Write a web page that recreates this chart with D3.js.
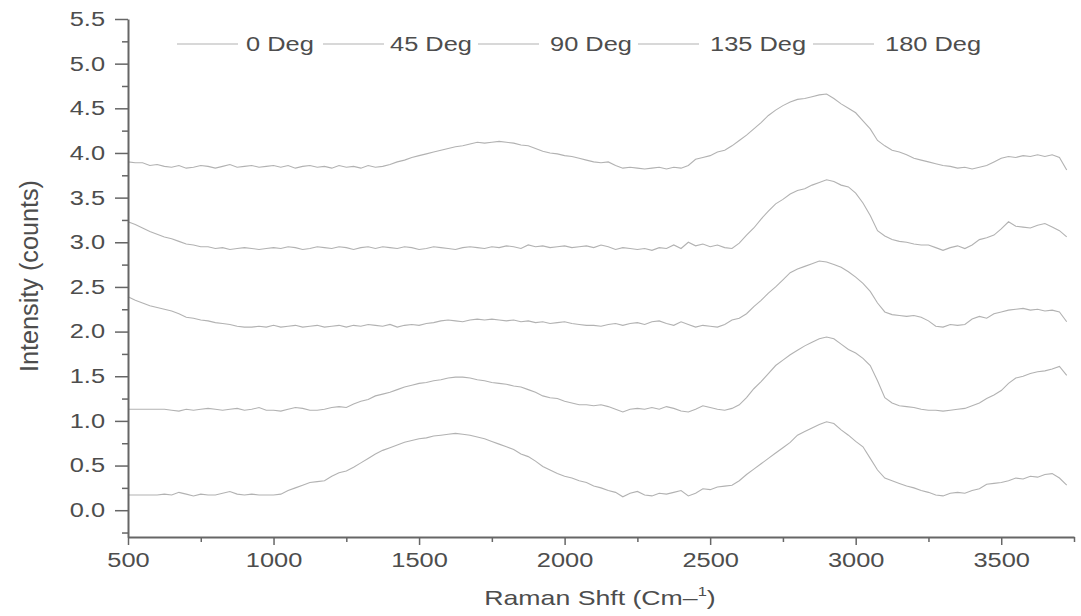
<!DOCTYPE html>
<html>
<head>
<meta charset="utf-8">
<script src="https://cdn.jsdelivr.net/npm/d3@7"></script>
<style>
  body { margin: 0; background: #fff; }
  text { font-family: "Liberation Sans", Arial, sans-serif; fill: #4d4d4d; }
</style>
</head>
<body>
<div class="chart"></div>
<script>
// raman shift grid (cm-1), one sample every 25
var shift = [
  500,525,550,575,600,625,650,675,700,725,
  750,775,800,825,850,875,900,925,950,975,
  1000,1025,1050,1075,1100,1125,1150,1175,1200,1225,
  1250,1275,1300,1325,1350,1375,1400,1425,1450,1475,
  1500,1525,1550,1575,1600,1625,1650,1675,1700,1725,
  1750,1775,1800,1825,1850,1875,1900,1925,1950,1975,
  2000,2025,2050,2075,2100,2125,2150,2175,2200,2225,
  2250,2275,2300,2325,2350,2375,2400,2425,2450,2475,
  2500,2525,2550,2575,2600,2625,2650,2675,2700,2725,
  2750,2775,2800,2825,2850,2875,2900,2925,2950,2975,
  3000,3025,3050,3075,3100,3125,3150,3175,3200,3225,
  3250,3275,3300,3325,3350,3375,3400,3425,3450,3475,
  3500,3525,3550,3575,3600,3625,3650,3675,3700,3725
];

var deg0 = [
  0.17,0.17,0.17,0.17,0.17,0.18,0.17,0.20,0.18,0.16,
  0.18,0.17,0.17,0.19,0.21,0.18,0.17,0.18,0.17,0.17,
  0.17,0.18,0.22,0.25,0.28,0.31,0.32,0.33,0.38,0.42,
  0.44,0.48,0.53,0.58,0.63,0.67,0.70,0.73,0.76,0.78,
  0.80,0.81,0.83,0.84,0.85,0.86,0.85,0.84,0.82,0.80,
  0.77,0.74,0.71,0.68,0.63,0.60,0.55,0.49,0.45,0.41,
  0.38,0.36,0.33,0.31,0.27,0.25,0.22,0.20,0.15,0.19,
  0.21,0.17,0.16,0.19,0.18,0.20,0.22,0.16,0.19,0.24,
  0.23,0.26,0.27,0.28,0.33,0.40,0.46,0.52,0.58,0.64,
  0.70,0.76,0.84,0.88,0.92,0.96,0.99,0.97,0.90,0.84,
  0.77,0.71,0.58,0.45,0.36,0.33,0.30,0.27,0.25,0.22,
  0.20,0.17,0.16,0.19,0.20,0.19,0.22,0.24,0.29,0.30,
  0.31,0.33,0.36,0.35,0.38,0.37,0.40,0.41,0.36,0.28
];

var deg45 = [
  1.13,1.13,1.13,1.13,1.13,1.13,1.12,1.11,1.13,1.12,
  1.13,1.14,1.13,1.12,1.13,1.14,1.12,1.13,1.15,1.12,
  1.12,1.11,1.13,1.15,1.14,1.12,1.12,1.13,1.15,1.16,
  1.15,1.19,1.22,1.24,1.28,1.30,1.32,1.35,1.38,1.40,
  1.42,1.43,1.45,1.46,1.48,1.49,1.49,1.48,1.46,1.45,
  1.43,1.42,1.41,1.39,1.38,1.35,1.32,1.28,1.26,1.25,
  1.22,1.20,1.18,1.18,1.17,1.18,1.16,1.13,1.10,1.13,
  1.14,1.13,1.15,1.13,1.16,1.14,1.11,1.10,1.13,1.17,
  1.15,1.13,1.12,1.14,1.18,1.26,1.36,1.44,1.53,1.62,
  1.68,1.74,1.79,1.84,1.88,1.92,1.94,1.92,1.86,1.80,
  1.76,1.70,1.62,1.45,1.26,1.20,1.17,1.16,1.15,1.13,
  1.12,1.12,1.11,1.12,1.13,1.14,1.17,1.20,1.25,1.29,
  1.34,1.42,1.48,1.50,1.53,1.55,1.56,1.58,1.61,1.51
];

var deg90 = [
  2.39,2.35,2.32,2.29,2.27,2.25,2.23,2.20,2.16,2.15,
  2.13,2.12,2.10,2.09,2.08,2.06,2.05,2.05,2.06,2.05,
  2.07,2.05,2.06,2.07,2.05,2.06,2.07,2.05,2.06,2.07,
  2.05,2.07,2.06,2.08,2.07,2.06,2.08,2.05,2.07,2.08,
  2.07,2.09,2.10,2.12,2.13,2.12,2.11,2.13,2.14,2.13,
  2.14,2.13,2.12,2.13,2.11,2.12,2.10,2.11,2.09,2.10,
  2.11,2.09,2.08,2.07,2.07,2.06,2.08,2.09,2.07,2.09,
  2.10,2.08,2.11,2.12,2.09,2.07,2.11,2.08,2.05,2.07,
  2.06,2.05,2.08,2.13,2.15,2.20,2.28,2.35,2.43,2.50,
  2.58,2.66,2.70,2.73,2.76,2.79,2.78,2.75,2.72,2.67,
  2.61,2.54,2.45,2.32,2.22,2.19,2.18,2.17,2.18,2.16,
  2.12,2.06,2.05,2.08,2.07,2.08,2.14,2.17,2.15,2.20,
  2.22,2.24,2.25,2.26,2.24,2.25,2.23,2.24,2.22,2.11
];

var deg135 = [
  3.23,3.20,3.16,3.12,3.09,3.06,3.04,3.01,2.98,2.97,
  2.95,2.95,2.93,2.94,2.92,2.93,2.94,2.93,2.92,2.93,
  2.94,2.93,2.95,2.94,2.92,2.93,2.95,2.94,2.93,2.95,
  2.94,2.92,2.94,2.95,2.93,2.95,2.94,2.93,2.95,2.94,
  2.92,2.93,2.95,2.94,2.93,2.92,2.94,2.95,2.94,2.93,
  2.95,2.94,2.96,2.95,2.93,2.97,2.95,2.96,2.94,2.95,
  2.96,2.94,2.95,2.96,2.94,2.97,2.95,2.92,2.94,2.93,
  2.92,2.93,2.91,2.94,2.93,2.97,2.93,3.00,2.96,2.98,
  2.95,2.97,2.94,2.93,2.99,3.08,3.16,3.26,3.35,3.43,
  3.48,3.54,3.58,3.60,3.64,3.67,3.70,3.68,3.64,3.62,
  3.55,3.44,3.30,3.13,3.07,3.03,3.01,3.00,2.98,2.97,
  2.97,2.94,2.91,2.94,2.96,2.93,2.97,3.03,3.05,3.08,
  3.15,3.23,3.18,3.17,3.16,3.19,3.21,3.17,3.13,3.06
];

var deg180 = [
  3.90,3.89,3.89,3.86,3.87,3.85,3.84,3.86,3.83,3.84,
  3.86,3.85,3.83,3.85,3.87,3.84,3.85,3.86,3.84,3.85,
  3.86,3.84,3.86,3.83,3.85,3.86,3.84,3.85,3.83,3.86,
  3.84,3.85,3.83,3.86,3.84,3.85,3.87,3.90,3.92,3.95,
  3.97,3.99,4.01,4.03,4.05,4.07,4.08,4.10,4.12,4.11,
  4.12,4.13,4.12,4.11,4.09,4.08,4.05,4.02,4.00,3.99,
  3.97,3.96,3.94,3.92,3.90,3.89,3.90,3.86,3.83,3.84,
  3.83,3.82,3.83,3.84,3.82,3.84,3.83,3.86,3.93,3.95,
  3.97,4.01,4.03,4.08,4.14,4.20,4.27,4.34,4.42,4.48,
  4.53,4.57,4.60,4.61,4.63,4.65,4.66,4.61,4.55,4.50,
  4.45,4.36,4.27,4.14,4.08,4.03,4.01,3.98,3.94,3.92,
  3.90,3.88,3.86,3.85,3.83,3.84,3.82,3.84,3.86,3.90,
  3.94,3.96,3.95,3.97,3.96,3.98,3.96,3.98,3.95,3.81
];

var seriesNames = ["0 Deg", "45 Deg", "90 Deg", "135 Deg", "180 Deg"];
var seriesValues = [deg0, deg45, deg90, deg135, deg180];

var xTicks = [500, 1000, 1500, 2000, 2500, 3000, 3500];
var yTicks = [0.0, 0.5, 1.0, 1.5, 2.0, 2.5, 3.0, 3.5, 4.0, 4.5, 5.0, 5.5];

var svgWidth = 1081, svgHeight = 616;
var wide = 1.27; // the lettering in the picture is drawn wide

var svg = d3.select(".chart")
  .append("svg")
    .attr("width", svgWidth)
    .attr("height", svgHeight);

var x = d3.scaleLinear().domain([500, 3750]).range([128, 1074]);
var y = d3.scaleLinear().domain([-0.3, 5.5]).range([537, 19]);

var lineColor = "#b2b2b2";
var axisColor = "#666";

// widen a text horizontally, keeping its anchor where it was
function stretch(sel, k) {
  sel.each(function() {
    var t = d3.select(this);
    var tx = +t.attr("x") || 0;
    t.attr("x", tx / k).attr("transform", "scale(" + k + ",1)");
  });
}

// curves
var line = d3.line()
  .x(function(d, i) { return x(shift[i]); })
  .y(function(d) { return y(d); });

svg.append("g").selectAll("path")
  .data(seriesValues)
  .enter()
  .append("path")
    .attr("d", line)
    .attr("fill", "none")
    .attr("stroke", lineColor)
    .attr("stroke-width", 1.1);

// minor ticks
svg.append("g")
  .attr("transform", "translate(0," + y.range()[0] + ")")
  .call(d3.axisBottom(x).tickValues(d3.range(750, 3751, 500)).tickSize(5).tickFormat(""))
  .call(function(g) { g.select(".domain").remove(); g.selectAll("line").attr("stroke", axisColor).attr("stroke-width", 1.5); });

svg.append("g")
  .attr("transform", "translate(" + x.range()[0] + ",0)")
  .call(d3.axisLeft(y).tickValues(d3.range(-0.25, 5.5, 0.5)).tickSize(6).tickFormat(""))
  .call(function(g) { g.select(".domain").remove(); g.selectAll("line").attr("stroke", axisColor).attr("stroke-width", 1.5); });

var xAxis = svg.append("g")
  .attr("transform", "translate(0," + y.range()[0] + ")")
  .call(d3.axisBottom(x).tickValues(xTicks).tickSize(8).tickSizeOuter(0).tickPadding(8).tickFormat(d3.format("d")));

var yAxis = svg.append("g")
  .attr("transform", "translate(" + x.range()[0] + ",0)")
  .call(d3.axisLeft(y).tickValues(yTicks).tickSize(13).tickSizeOuter(0).tickPadding(10).tickFormat(d3.format(".1f")));

[xAxis, yAxis].forEach(function(g) {
  g.select(".domain").attr("stroke", axisColor).attr("stroke-width", 2);
  g.selectAll(".tick line").attr("stroke", axisColor).attr("stroke-width", 1.5);
  g.selectAll(".tick text")
    .style("font-family", "'Liberation Sans', Arial, sans-serif")
    .style("font-size", "20px")
    .attr("fill", "#4d4d4d")
    .call(stretch, wide);
});

// axis titles
var xTitle = svg.append("text")
  .attr("x", 600)
  .attr("y", 605)
  .attr("text-anchor", "middle")
  .style("font-size", "21px");
xTitle.append("tspan").text("Raman Shft (Cm\u2013");
xTitle.append("tspan").attr("dy", -9).style("font-size", "13px").text("1");
xTitle.append("tspan").attr("dy", 9).text(")");
xTitle.call(stretch, wide);

svg.append("text")
  .attr("transform", "translate(38,276) scale(" + wide + ",1) rotate(-90)")
  .attr("text-anchor", "middle")
  .attr("textLength", 192)
  .attr("lengthAdjust", "spacingAndGlyphs")
  .style("font-size", "21px")
  .text("Intensity (counts)");

// legend, one row
var legendLine = [177, 323, 478, 638, 813];
var legendText = [246, 390, 550, 710, 885];

var legend = svg.append("g").selectAll("g")
  .data(seriesNames)
  .enter()
  .append("g")
    .attr("transform", "translate(0,44)");

legend.append("line")
  .attr("x1", function(d, i) { return legendLine[i]; })
  .attr("x2", function(d, i) { return legendLine[i] + 61; })
  .attr("stroke", lineColor)
  .attr("stroke-width", 1.2);

legend.append("text")
  .attr("x", function(d, i) { return legendText[i]; })
  .attr("dy", "0.35em")
  .style("font-size", "20px")
  .text(function(d) { return d; })
  .call(stretch, wide);
</script>
</body>
</html>
